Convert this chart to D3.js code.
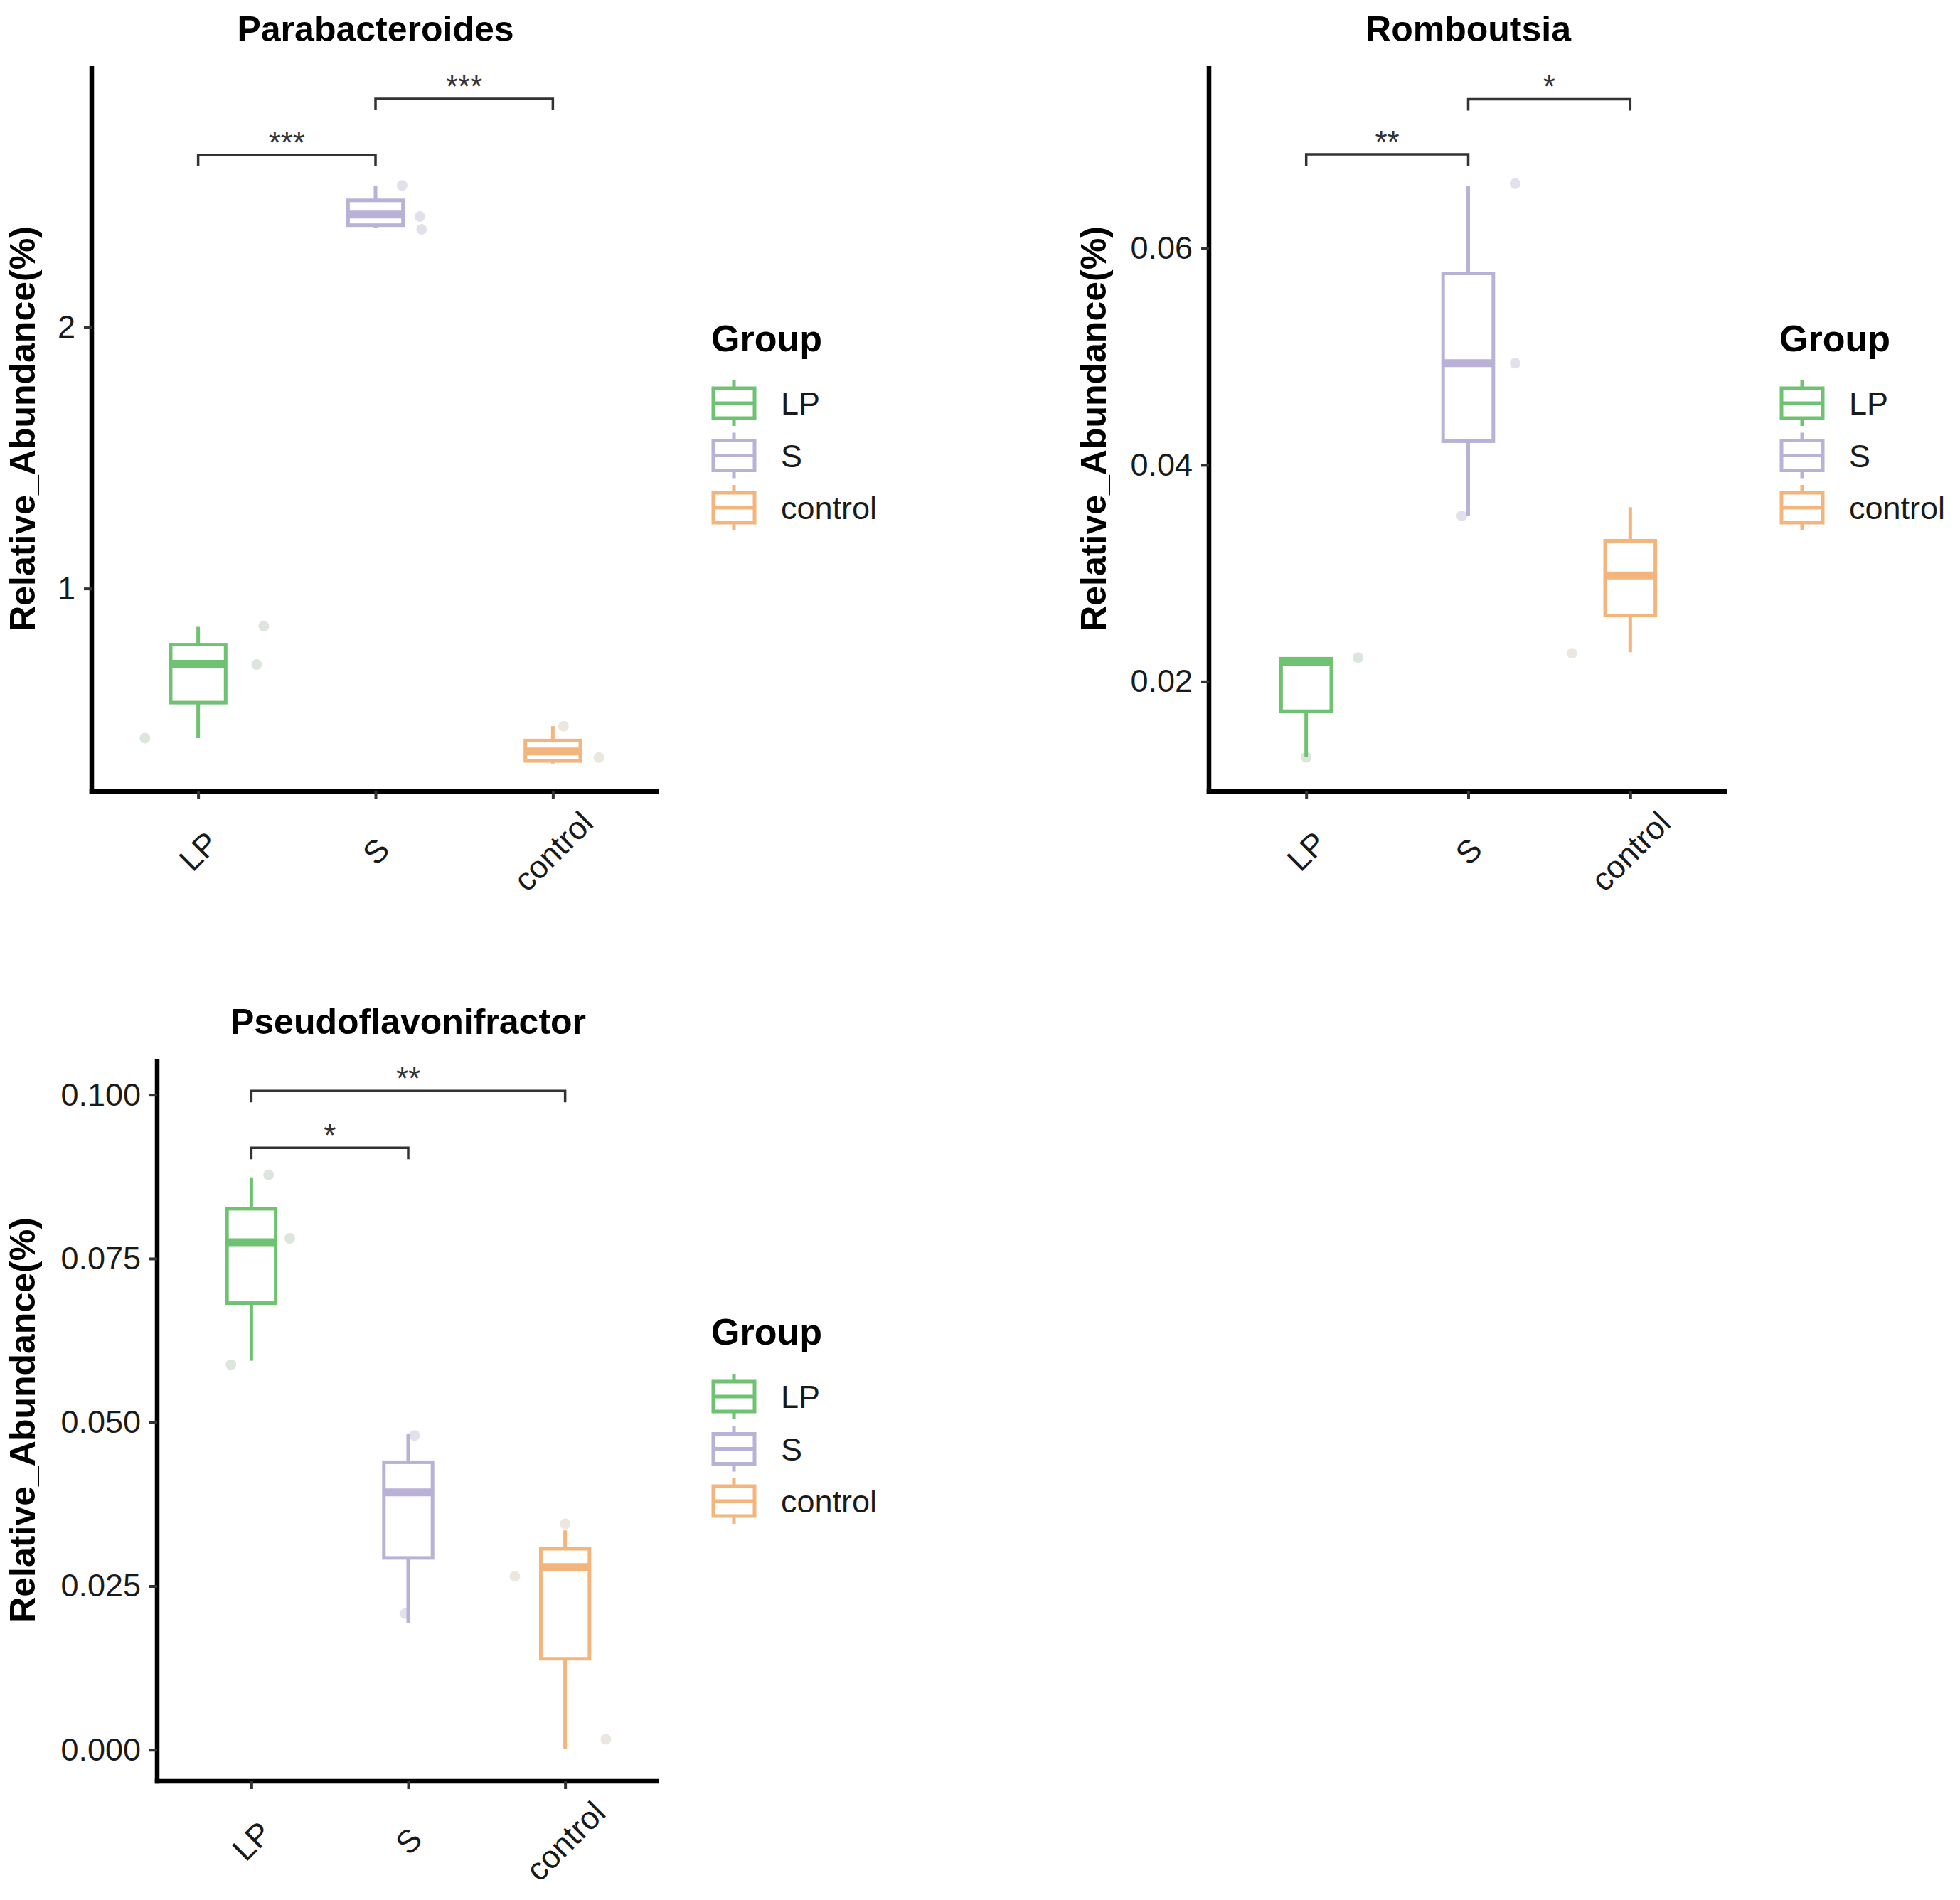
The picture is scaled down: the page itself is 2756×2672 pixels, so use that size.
<!DOCTYPE html>
<html>
<head>
<meta charset="utf-8">
<script src="https://cdn.jsdelivr.net/npm/d3@7"></script>
<style>
  html, body { margin: 0; padding: 0; background: #fff; }
  svg { display: block; }
</style>
</head>
<body>
<svg id="chart" width="2756" height="2672"></svg>
<script>
// ---------------- DATA ----------------
const groups = ["LP", "S", "control"];
const groupColors = ["#6fc271", "#b9b1d6", "#f3b57b"];
const pointColors = ["#dce6dc", "#e2e0ea", "#ece6df"];
const legendTitle = "Group";
const yAxisTitle = "Relative_Abundance(%)";

// Parabacteroides
const paraTitle = "Parabacteroides";
const paraStats = [ // [min, q1, median, q3, max]
  [0.427, 0.563, 0.712, 0.785, 0.853],
  [2.380, 2.391, 2.432, 2.486, 2.543],
  [0.330, 0.340, 0.376, 0.418, 0.473]
];
const paraPoints = [[0.427, 0.856, 0.709], [2.543, 2.424, 2.375], [0.473, 0.353, 0.360]];
const paraJitter = [[-0.30, 0.37, 0.33], [0.15, 0.25, 0.26], [0.06, 0.26, -0.05]];
const paraDomain = [0.223, 3.0];
const paraTicks = [1, 2];
const paraTickLabels = ["1", "2"];
const paraSig = [[0, 1, 2.66, "***"], [1, 2, 2.875, "***"]];

// Romboutsia
const rombTitle = "Romboutsia";
const rombStats = [
  [0.0130, 0.01725, 0.0218, 0.0221, 0.0222],
  [0.0353, 0.0422, 0.0494, 0.0577, 0.0658],
  [0.0227, 0.0261, 0.0298, 0.0330, 0.0361]
];
const rombPoints = [[0.0222, 0.0130, 0.0215], [0.0660, 0.0494, 0.0353], [0.0226, 0.0298, 0.0320]];
const rombJitter = [[0.32, 0.0, -0.10], [0.29, 0.29, -0.04], [-0.36, 0.05, 0.0]];
const rombDomain = [0.00984, 0.07685];
const rombTicks = [0.02, 0.04, 0.06];
const rombTickLabels = ["0.02", "0.04", "0.06"];
const rombSig = [[0, 1, 0.0687, "**"], [1, 2, 0.0738, "*"]];

// Pseudoflavonifractor
const pseudoTitle = "Pseudoflavonifractor";
const pseudoStats = [
  [0.0594, 0.0682, 0.0775, 0.0826, 0.0874],
  [0.0194, 0.0293, 0.0393, 0.0439, 0.0483],
  [0.0002, 0.0139, 0.0279, 0.0307, 0.0335]
];
const pseudoPoints = [[0.0878, 0.0781, 0.0588], [0.0480, 0.0208, 0.0393], [0.0345, 0.0265, 0.0016]];
const pseudoJitter = [[0.11, 0.245, -0.13], [0.04, -0.02, 0.0], [0.0, -0.32, 0.26]];
const pseudoDomain = [-0.0048, 0.1055];
const pseudoTicks = [0, 0.025, 0.05, 0.075, 0.1];
const pseudoTickLabels = ["0.000", "0.025", "0.050", "0.075", "0.100"];
const pseudoSig = [[0, 1, 0.0919, "*"], [0, 2, 0.1006, "**"]];

// ---------------- LAYOUT ----------------
const FONT = "'Liberation Sans', Arial, Helvetica, sans-serif";
const svg = d3.select("#chart");
svg.append("rect").attr("width", 2756).attr("height", 2672).attr("fill", "#fff");

const panels = [
  { title: paraTitle, stats: paraStats, pts: paraPoints, jit: paraJitter, domain: paraDomain,
    ticks: paraTicks, tickLabels: paraTickLabels, sig: paraSig,
    left: 129, right: 927, top: 93, bottom: 1113, titleY: 58, yTitleX: 49,
    legX: 1003, legY: 494 },
  { title: rombTitle, stats: rombStats, pts: rombPoints, jit: rombJitter, domain: rombDomain,
    ticks: rombTicks, tickLabels: rombTickLabels, sig: rombSig,
    left: 1700, right: 2429, top: 93, bottom: 1113, titleY: 58, yTitleX: 1555,
    legX: 2505, legY: 494 },
  { title: pseudoTitle, stats: pseudoStats, pts: pseudoPoints, jit: pseudoJitter, domain: pseudoDomain,
    ticks: pseudoTicks, tickLabels: pseudoTickLabels, sig: pseudoSig,
    left: 221, right: 927, top: 1489, bottom: 2505, titleY: 1454, yTitleX: 49,
    legX: 1003, legY: 1891 }
];

const LW = 5, MEDW = 11, AXW = 6.5;

panels.forEach(p => {
  const g = svg.append("g");
  const x = d3.scalePoint().domain(groups).range([p.left, p.right]).padding(0.6);
  const y = d3.scaleLinear().domain(p.domain).range([p.bottom, p.top]);
  const step = x.step();
  const bw = step * 0.31;

  // title
  g.append("text")
    .attr("x", (p.left + p.right) / 2).attr("y", p.titleY)
    .attr("text-anchor", "middle")
    .attr("font-family", FONT).attr("font-weight", "bold").attr("font-size", 50)
    .attr("fill", "#000").text(p.title);

  // y axis title
  g.append("text")
    .attr("transform", `translate(${p.yTitleX},${(p.top + p.bottom) / 2}) rotate(-90)`)
    .attr("text-anchor", "middle")
    .attr("font-family", FONT).attr("font-weight", "bold").attr("font-size", 50)
    .attr("fill", "#000").text(yAxisTitle);

  // jittered points (drawn below boxes)
  groups.forEach((grp, gi) => {
    g.selectAll(null).data(p.pts[gi]).enter().append("circle")
      .attr("cx", (d, i) => x(grp) + p.jit[gi][i] * step)
      .attr("cy", d => y(d))
      .attr("r", 7.5)
      .attr("fill", pointColors[gi]);
  });

  // boxes
  groups.forEach((grp, gi) => {
    const s = p.stats[gi];
    const cx = x(grp);
    const col = groupColors[gi];
    g.append("line").attr("x1", cx).attr("x2", cx).attr("y1", y(s[3])).attr("y2", y(s[4]))
      .attr("stroke", col).attr("stroke-width", LW);
    g.append("line").attr("x1", cx).attr("x2", cx).attr("y1", y(s[1])).attr("y2", y(s[0]))
      .attr("stroke", col).attr("stroke-width", LW);
    g.append("rect").attr("x", cx - bw / 2).attr("width", bw)
      .attr("y", y(s[3])).attr("height", Math.max(0.1, y(s[1]) - y(s[3])))
      .attr("fill", "#fff").attr("stroke", col).attr("stroke-width", LW);
    g.append("line").attr("x1", cx - bw / 2).attr("x2", cx + bw / 2)
      .attr("y1", y(s[2])).attr("y2", y(s[2]))
      .attr("stroke", col).attr("stroke-width", MEDW);
  });

  // significance brackets
  p.sig.forEach(sg => {
    const x1 = x(groups[sg[0]]), x2 = x(groups[sg[1]]), yy = y(sg[2]);
    const tip = 16;
    g.append("path")
      .attr("d", `M${x1},${yy + tip}V${yy}H${x2}V${yy + tip}`)
      .attr("fill", "none").attr("stroke", "#333").attr("stroke-width", 3.5);
    g.append("text")
      .attr("x", (x1 + x2) / 2).attr("y", yy - 2)
      .attr("text-anchor", "middle")
      .attr("font-family", FONT).attr("font-size", 44).attr("fill", "#333")
      .text(sg[3]);
  });

  // y axis
  const ya = g.append("g").attr("transform", `translate(${p.left},0)`)
    .call(d3.axisLeft(y).tickValues(p.ticks).tickFormat((d, i) => p.tickLabels[i])
      .tickSize(11).tickSizeOuter(0).tickPadding(12));
  ya.select(".domain").attr("stroke", "#000").attr("stroke-width", AXW)
    .attr("d", `M0,${p.top}V${p.bottom + AXW / 2}`);
  ya.selectAll(".tick line").attr("stroke", "#333").attr("stroke-width", 4);
  ya.selectAll(".tick text").attr("font-family", FONT).attr("font-size", 45).attr("fill", "#1a1a1a");

  // x axis
  const xa = g.append("g").attr("transform", `translate(0,${p.bottom})`)
    .call(d3.axisBottom(x).tickSize(11).tickSizeOuter(0));
  xa.select(".domain").attr("stroke", "#000").attr("stroke-width", AXW)
    .attr("d", `M${p.left - AXW / 2},0H${p.right}`);
  xa.selectAll(".tick line").attr("stroke", "#333").attr("stroke-width", 4);
  xa.selectAll(".tick text")
    .attr("font-family", FONT).attr("font-size", 45).attr("fill", "#1a1a1a")
    .attr("text-anchor", "middle").attr("x", 0).attr("y", 0).attr("dy", "0.35em")
    .attr("transform", "translate(0,84) rotate(-45)");

  // legend
  const lg = g.append("g");
  lg.append("text").attr("x", p.legX - 3).attr("y", p.legY)
    .attr("font-family", FONT).attr("font-weight", "bold").attr("font-size", 52)
    .attr("fill", "#000").text(legendTitle);
  groups.forEach((grp, gi) => {
    const cy = p.legY + 73 + gi * 73.5;
    const kx = p.legX, kw = 58, kh = 42;
    const col = groupColors[gi];
    lg.append("line").attr("x1", kx + kw / 2).attr("x2", kx + kw / 2)
      .attr("y1", cy - kh / 2 - 11).attr("y2", cy + kh / 2 + 11)
      .attr("stroke", col).attr("stroke-width", LW);
    lg.append("rect").attr("x", kx).attr("y", cy - kh / 2).attr("width", kw).attr("height", kh)
      .attr("fill", "#fff").attr("stroke", col).attr("stroke-width", LW);
    lg.append("line").attr("x1", kx).attr("x2", kx + kw).attr("y1", cy).attr("y2", cy)
      .attr("stroke", col).attr("stroke-width", LW);
    lg.append("text").attr("x", kx + 95).attr("y", cy + 16)
      .attr("font-family", FONT).attr("font-size", 45).attr("fill", "#1a1a1a")
      .text(grp);
  });
});
</script>
</body>
</html>
